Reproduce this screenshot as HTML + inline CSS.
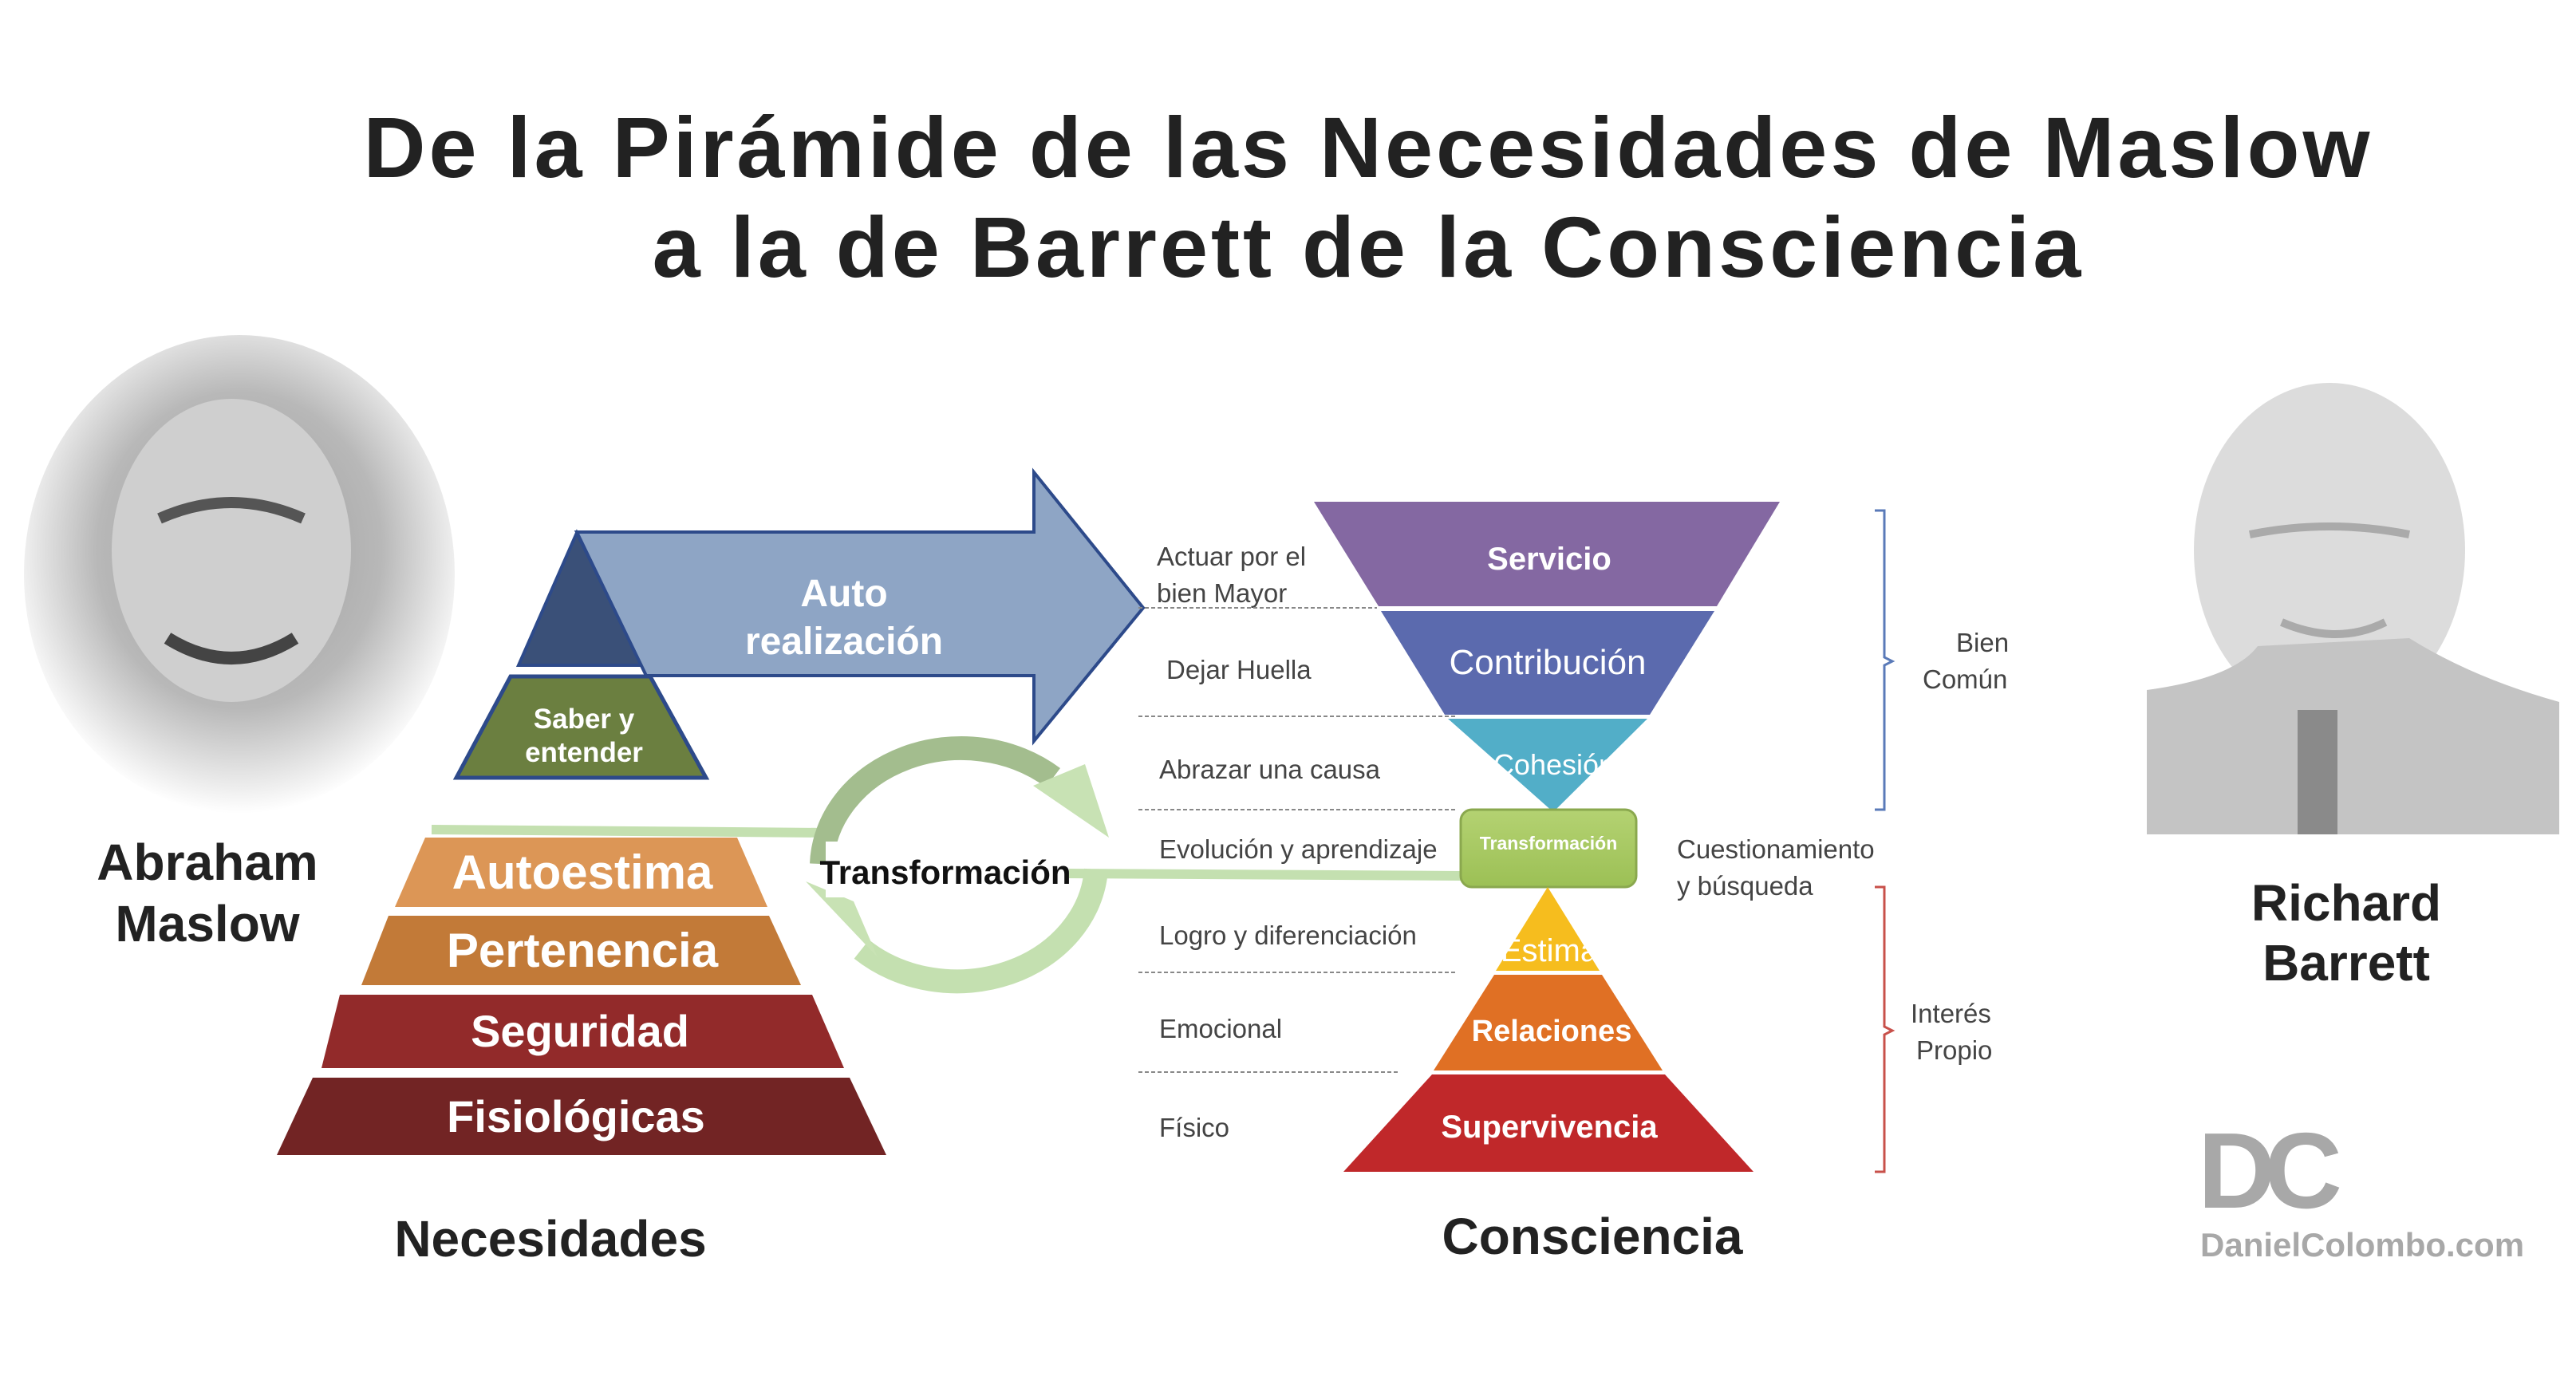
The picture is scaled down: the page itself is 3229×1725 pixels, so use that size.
<!DOCTYPE html>
<html><head><meta charset="utf-8"><style>
html,body{margin:0;padding:0;background:#fff;}
svg{display:block;}
</style></head><body>
<svg width="3229" height="1725" viewBox="0 0 3229 1725" xmlns="http://www.w3.org/2000/svg" font-family="Liberation Sans, sans-serif">
<defs>
<radialGradient id="mg" cx="0.5" cy="0.45" r="0.55"><stop offset="0" stop-color="#9a9a9a"/><stop offset="0.6" stop-color="#b8b8b8"/><stop offset="1" stop-color="#fff"/></radialGradient>
<linearGradient id="tb" x1="0" y1="0" x2="0" y2="1"><stop offset="0" stop-color="#b4d272"/><stop offset="1" stop-color="#9cc055"/></linearGradient>
</defs>
<rect width="3229" height="1725" fill="#fff"/>
<!-- Title -->
<text x="1715" y="222" font-size="108" font-weight="bold" fill="#222" text-anchor="middle" letter-spacing="4">De la Pirámide de las Necesidades de Maslow</text>
<text x="1715" y="347" font-size="108" font-weight="bold" fill="#222" text-anchor="middle" letter-spacing="4">a la de Barrett de la Consciencia</text>

<!-- Maslow photo -->
<ellipse cx="300" cy="720" rx="270" ry="300" fill="url(#mg)"/>
<ellipse cx="290" cy="690" rx="150" ry="190" fill="#cfcfcf"/>
<path d="M200 650 Q290 610 380 650" stroke="#555" stroke-width="14" fill="none"/>
<path d="M210 800 Q290 850 370 800" stroke="#444" stroke-width="16" fill="none"/>
<text x="260" y="1103" font-size="64" font-weight="bold" fill="#222" text-anchor="middle">Abraham</text>
<text x="260" y="1180" font-size="64" font-weight="bold" fill="#222" text-anchor="middle">Maslow</text>

<!-- Maslow top -->
<polygon points="723,668 805,834 650,834" fill="#3a5078" stroke="#2d4a8a" stroke-width="4"/>
<polygon points="640,848 815,848 885,975 572,975" fill="#6b7f40" stroke="#2d4a8a" stroke-width="5"/>
<text x="732" y="913" font-size="35" font-weight="bold" fill="#fff" text-anchor="middle">Saber y</text>
<text x="732" y="955" font-size="35" font-weight="bold" fill="#fff" text-anchor="middle">entender</text>
<!-- arrow -->
<polygon points="723,667 1296,667 1296,592 1433,762 1296,929 1296,847 810,847" fill="#8ea5c5" stroke="#2d4a8a" stroke-width="4"/>
<text x="1058" y="760" font-size="48" font-weight="bold" fill="#fff" text-anchor="middle">Auto</text>
<text x="1058" y="820" font-size="48" font-weight="bold" fill="#fff" text-anchor="middle">realización</text>

<!-- Maslow lower -->
<line x1="541" y1="1040" x2="1040" y2="1044" stroke="#c4e0b0" stroke-width="12"/>
<polygon points="533,1050 924,1050 962,1137 495,1137" fill="#dc9656"/>
<text x="730" y="1114" font-size="60" font-weight="bold" fill="#fff" text-anchor="middle">Autoestima</text>
<polygon points="487,1148 964,1148 1004,1235 453,1235" fill="#c27a38"/>
<text x="730" y="1212" font-size="60" font-weight="bold" fill="#fff" text-anchor="middle">Pertenencia</text>
<polygon points="426,1247 1018,1247 1058,1339 403,1339" fill="#922a2a"/>
<text x="727" y="1312" font-size="56" font-weight="bold" fill="#fff" text-anchor="middle">Seguridad</text>
<polygon points="392,1351 1065,1351 1111,1448 347,1448" fill="#722424"/>
<text x="722" y="1419" font-size="56" font-weight="bold" fill="#fff" text-anchor="middle">Fisiológicas</text>
<text x="690" y="1575" font-size="64" font-weight="bold" fill="#222" text-anchor="middle">Necesidades</text>

<!-- transformation cycle -->
<path d="M1030,1083 A175,150 0 0 1 1320,975" stroke="#a3bd8e" stroke-width="30" fill="none"/>
<polygon points="1295,985 1360,958 1390,1050" fill="#c8e2b4"/>
<path d="M1374,1090 A175,150 0 0 1 1080,1190" stroke="#c4e0b0" stroke-width="30" fill="none"/>
<polygon points="1100,1200 1010,1105 1070,1130" fill="#c8e2b4"/>
<line x1="1340" y1="1095" x2="1831" y2="1098" stroke="#c4e0b0" stroke-width="12"/>
<rect x="1035" y="1055" width="300" height="70" fill="#fff"/>
<text x="1185" y="1108" font-size="42" font-weight="bold" fill="#111" text-anchor="middle">Transformación</text>

<!-- Barrett labels -->
<g font-size="33" fill="#444">
<text x="1450" y="709">Actuar por el</text>
<text x="1450" y="755">bien Mayor</text>
<text x="1462" y="851">Dejar Huella</text>
<text x="1453" y="976">Abrazar una causa</text>
<text x="1453" y="1076">Evolución y aprendizaje</text>
<text x="1453" y="1184">Logro y diferenciación</text>
<text x="1453" y="1301">Emocional</text>
<text x="1453" y="1425">Físico</text>
<text x="2102" y="1076">Cuestionamiento</text>
<text x="2102" y="1122">y búsqueda</text>
<text x="2452" y="817">Bien</text>
<text x="2410" y="863">Común</text>
<text x="2395" y="1282">Interés</text>
<text x="2402" y="1328">Propio</text>
</g>
<g stroke="#888" stroke-width="2" stroke-dasharray="5,3">
<line x1="1427" y1="762" x2="1726" y2="762"/>
<line x1="1427" y1="898" x2="1827" y2="898"/>
<line x1="1427" y1="1015" x2="1827" y2="1015"/>
<line x1="1427" y1="1219" x2="1827" y2="1219"/>
<line x1="1427" y1="1344" x2="1754" y2="1344"/>
</g>
<!-- inverted pyramid -->
<polygon points="1647,629 2231,629 2152,760 1728,760" fill="#8468a2"/>
<text x="1942" y="714" font-size="40" font-weight="bold" fill="#fff" text-anchor="middle">Servicio</text>
<polygon points="1731,766 2149,766 2068,896 1811,896" fill="#5b6aae"/>
<text x="1940" y="845" font-size="44" fill="#fff" text-anchor="middle">Contribución</text>
<polygon points="1815,901 2065,901 1947,1018" fill="#52aec8"/>
<text x="1948" y="971" font-size="36" fill="#fff" text-anchor="middle">Cohesión</text>
<!-- transform box -->
<rect x="1831" y="1015" width="220" height="97" rx="14" fill="url(#tb)" stroke="#8aa84e" stroke-width="3"/>
<text x="1941" y="1065" font-size="23" font-weight="bold" fill="#fff" text-anchor="middle">Transformación</text>
<!-- upper pyramid -->
<polygon points="1940,1112 2005,1217 1875,1217" fill="#f6bd1e"/>
<text x="1942" y="1205" font-size="40" fill="#fff" text-anchor="middle">Estima</text>
<polygon points="1873,1222 2008,1222 2084,1342 1797,1342" fill="#e07024"/>
<text x="1945" y="1305" font-size="38" font-weight="bold" fill="#fff" text-anchor="middle">Relaciones</text>
<polygon points="1795,1347 2087,1347 2198,1469 1684,1469" fill="#c0282a"/>
<text x="1942" y="1426" font-size="40" font-weight="bold" fill="#fff" text-anchor="middle">Supervivencia</text>
<text x="1996" y="1572" font-size="64" font-weight="bold" fill="#222" text-anchor="middle">Consciencia</text>
<!-- brackets -->
<path d="M2350,640 H2362 V824 L2372,829 L2362,834 V1015 H2350" fill="none" stroke="#5a7ab8" stroke-width="3"/>
<path d="M2350,1112 H2362 V1287 L2372,1292 L2362,1297 V1469 H2350" fill="none" stroke="#c8504a" stroke-width="3"/>

<!-- Barrett photo -->
<ellipse cx="2920" cy="690" rx="170" ry="210" fill="#dcdcdc"/>
<path d="M2691,865 Q2800,850 2830,810 L3020,800 Q3100,850 3208,880 V1046 H2691 Z" fill="#c4c4c4"/>
<path d="M2820,670 Q2920,650 3020,670" stroke="#aaa" stroke-width="10" fill="none"/>
<path d="M2860,780 Q2930,810 2990,780" stroke="#aaa" stroke-width="10" fill="none"/>
<rect x="2880" y="890" width="50" height="156" fill="#8a8a8a"/>
<text x="2941" y="1154" font-size="64" font-weight="bold" fill="#222" text-anchor="middle">Richard</text>
<text x="2941" y="1229" font-size="64" font-weight="bold" fill="#222" text-anchor="middle">Barrett</text>
<!-- logo -->
<text x="2755" y="1514" font-size="135" font-weight="bold" fill="#a8a8a8" letter-spacing="-14">DC</text>
<text x="2758" y="1575" font-size="42" font-weight="bold" fill="#a8a8a8">DanielColombo.com</text>
</svg>
</body></html>
